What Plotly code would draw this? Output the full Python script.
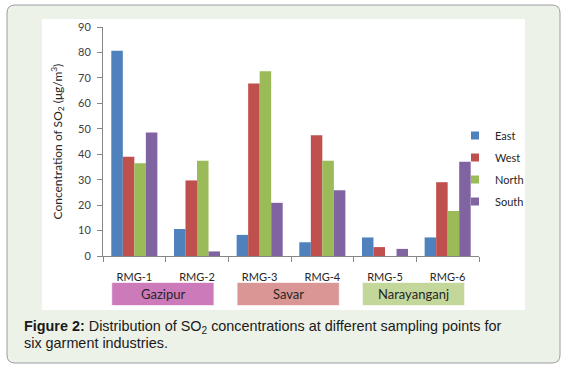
import plotly.graph_objects as go

# ---- data ----
categories = ["RMG-1", "RMG-2", "RMG-3", "RMG-4", "RMG-5", "RMG-6"]
east = [80.7, 10.6, 8.3, 5.4, 7.3, 7.3]
west = [39.0, 29.7, 67.8, 47.5, 3.5, 29.0]
north = [36.5, 37.4, 72.6, 37.4, 0.0, 17.7]
south = [48.5, 1.8, 20.9, 25.8, 2.8, 37.0]
series_names = ["East", "West", "North", "South"]
groups = ["Gazipur", "Savar", "Narayanganj"]
group_members = [["RMG-1", "RMG-2"], ["RMG-3", "RMG-4"], ["RMG-5", "RMG-6"]]
y_ticks = [0, 10, 20, 30, 40, 50, 60, 70, 80, 90]

# ---- style ----
colors = ["#4F81BD", "#C0504D", "#9BBB59", "#8064A2"]
group_colors = ["#CC7AB9", "#DA9694", "#C4D79B"]
W, H = 567, 368
L, R, T, B = 103, 88, 27, 112
PW, PH = W - L - R, H - T - B


def px(x):
    return (x - L) / PW


def py(y):
    return (H - B - y) / PH


fig = go.Figure()
for name, vals, col in zip(series_names, [east, west, north, south], colors):
    fig.add_trace(go.Bar(name=name, x=categories, y=vals, marker_color=col,
                         marker_line_width=0, showlegend=False, legendgroup=name))
# legend entries (small square keys like the original)
for name, col in zip(series_names, colors):
    fig.add_trace(go.Scatter(name=name, x=[None], y=[None], mode="markers",
                             marker=dict(symbol="square", size=8, color=col),
                             legendgroup=name, showlegend=True))

# outer rounded caption box
x0, x1, y0, y1, r = 7, 560, 5, 363, 8
pts = (f"M{px(x0 + r)},{py(y0)} L{px(x1 - r)},{py(y0)} Q{px(x1)},{py(y0)} {px(x1)},{py(y0 + r)} "
       f"L{px(x1)},{py(y1 - r)} Q{px(x1)},{py(y1)} {px(x1 - r)},{py(y1)} "
       f"L{px(x0 + r)},{py(y1)} Q{px(x0)},{py(y1)} {px(x0)},{py(y1 - r)} "
       f"L{px(x0)},{py(y0 + r)} Q{px(x0)},{py(y0)} {px(x0 + r)},{py(y0)} Z")
shapes = [
    dict(type="path", path=pts, xref="paper", yref="paper", fillcolor="#EDF2E8",
         line=dict(color="#9C9C9C", width=1), layer="below"),
    dict(type="rect", xref="paper", yref="paper", x0=px(42), x1=px(525), y0=py(310), y1=py(19),
         fillcolor="white", line=dict(width=0), layer="below"),
]
annotations = []
for g, members, gc in zip(groups, group_members, group_colors):
    i0 = categories.index(members[0])
    i1 = categories.index(members[-1])
    shapes.append(dict(type="rect", xref="x", yref="paper", x0=i0 - 0.36, x1=i1 + 0.27,
                       y0=py(305.5), y1=py(282.5), fillcolor=gc,
                       line=dict(color="rgba(255,255,255,0.6)", width=1), layer="above"))
    annotations.append(dict(x=(i0 + i1) / 2 - 0.045, y=py(294), xref="x", yref="paper", text=g,
                            xanchor="center", yanchor="middle",
                            showarrow=False, font=dict(family="Lato", size=13, color="#262626")))

annotations.append(dict(x=px(57), y=(py(27) + py(256)) / 2, xref="paper", yref="paper",
                        xanchor="center", yanchor="middle",
                        text="Concentration of SO<sub>2</sub> (μg/m<sup>3</sup>)", textangle=-90,
                        showarrow=False, font=dict(family="Lato", size=12, color="#262626")))
annotations.append(dict(x=px(22), y=py(327), xref="paper", yref="paper", xanchor="left",
                        yanchor="middle", showarrow=False,
                        text="<b>Figure 2:</b> Distribution of SO<sub>2</sub> concentrations at different sampling points for",
                        font=dict(family="Liberation Sans", size=14.4, color="#1a1a1a")))
annotations.append(dict(x=px(22), y=py(343), xref="paper", yref="paper", xanchor="left",
                        yanchor="middle", showarrow=False,
                        text="six garment industries.",
                        font=dict(family="Liberation Sans", size=14.4, color="#1a1a1a")))

fig.update_layout(
    width=W, height=H, margin=dict(l=L, r=R, t=T, b=B),
    paper_bgcolor="white", plot_bgcolor="rgba(0,0,0,0)",
    barmode="group", bargap=0.265, bargroupgap=0,
    font=dict(family="Lato", size=11, color="#404040"),
    shapes=shapes, annotations=annotations,
    legend=dict(x=px(455), y=py(121), xanchor="left", yanchor="top",
                bgcolor="rgba(0,0,0,0)", tracegroupgap=3,
                font=dict(family="Lato", size=11, color="#262626")),
    xaxis=dict(showline=True, linecolor="#868686", ticks="outside", tickson="boundaries",
               ticklen=5, tickcolor="#868686", showgrid=False, ticklabelstandoff=11,
               tickfont=dict(family="Lato", size=11, color="#262626")),
    yaxis=dict(range=[0, 90], tickvals=y_ticks, showline=True, linecolor="#868686",
               ticks="outside", ticklen=5, tickcolor="#868686", showgrid=False,
               zeroline=False, ticklabelstandoff=4,
               tickfont=dict(family="Lato", size=11, color="#404040")),
)

fig.write_html("out.html", config={"displayModeBar": False},
               post_script="document.body.style.margin='0';")
